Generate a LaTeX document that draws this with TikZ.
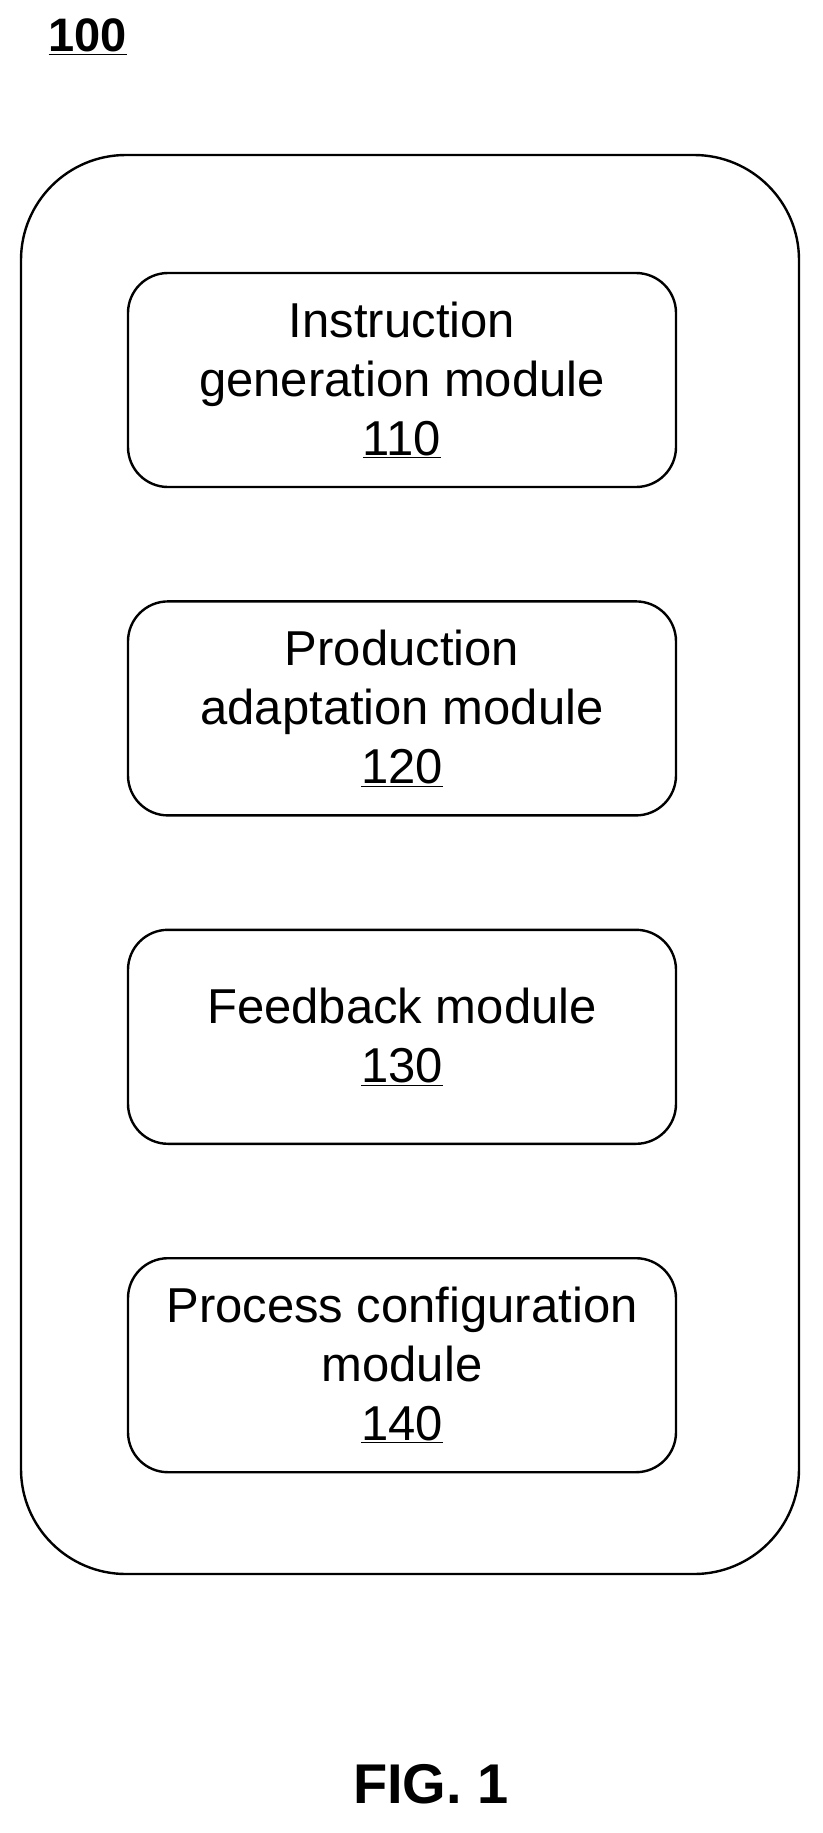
\documentclass[tikz,border=0pt]{standalone}
\usepackage{fontspec}
\setmainfont{Liberation Sans}
\usetikzlibrary{positioning}

\tikzset{
  module/.style={draw, line width=2.4pt, rounded corners=40pt, minimum width=548pt,
    minimum height=214pt, align=center, font=\fontsize{49}{59}\selectfont},
}

\begin{document}
\begin{tikzpicture}[x=1pt, y=1pt]

    \useasboundingbox (0,0) rectangle (822,-1833);

    \node (label) [anchor=base west, font=\bfseries\fontsize{47}{52}\selectfont] at (45,-52) {\underline{100}};

    \draw[line width=2.4pt, rounded corners=105pt] (21,-155) rectangle (799,-1574);

    \node (M110) [module] at (402,-380) {Instruction\\generation module\\\underline{110}};
    \node (M120) [module, below=112pt of M110] {Production\\adaptation module\\\underline{120}};
    \node (M130) [module, below=112pt of M120] {Feedback module\\\underline{130}};
    \node (M140) [module, below=112pt of M130] {Process configuration\\module\\\underline{140}};

    \node (fig) [font=\bfseries\fontsize{56}{62}\selectfont] at (431,-1784) {FIG. 1};

\end{tikzpicture}
\end{document}
